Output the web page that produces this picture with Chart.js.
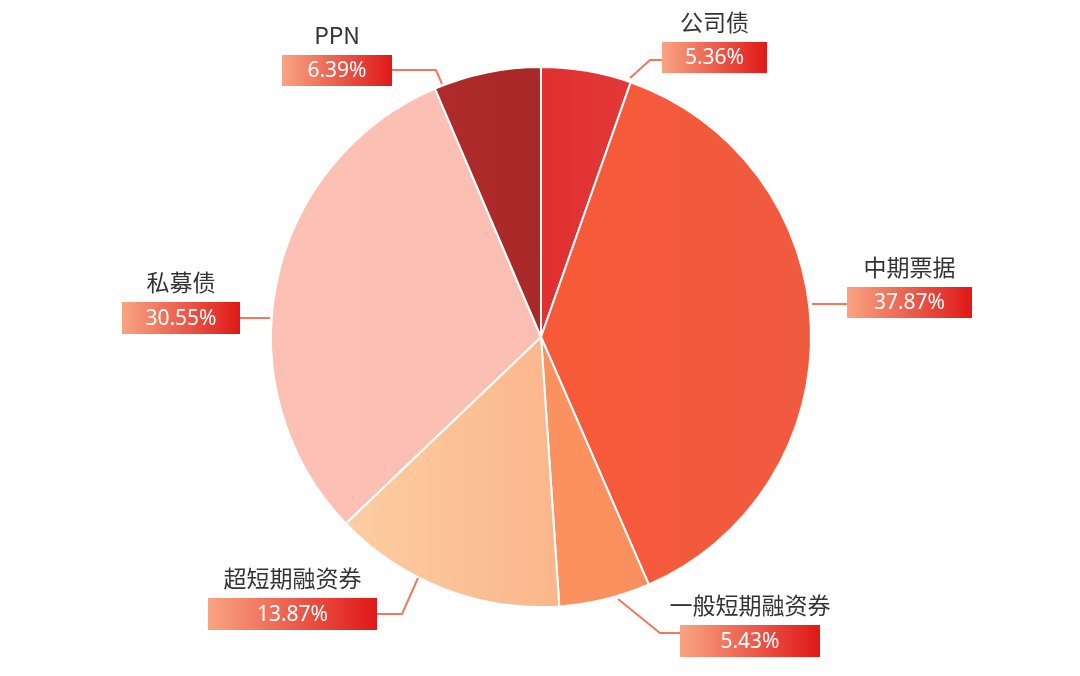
<!DOCTYPE html>
<html>
<head>
<meta charset="utf-8">
<script src="https://cdn.jsdelivr.net/npm/chart.js@4"></script>
<style>
  html, body { margin: 0; padding: 0; background: #ffffff; }
  canvas { display: block; }
</style>
</head>
<body>
<canvas id="pieChart" width="1080" height="676"></canvas>
<script>
// Data
const categories = ['公司债', '中期票据', '一般短期融资券', '超短期融资券', '私募债', 'PPN'];
const shares = [5.36, 37.87, 5.43, 13.87, 30.55, 6.39];

// Slice colours (left -> right gradient stops)
const sliceStops = [
    ['#d81818', '#e84848'],
    ['#ff5a30', '#f05a40'],
    ['#fb9a68', '#f98a58'],
    ['#fdd6aa', '#f99a70'],
    ['#fcc0b4', '#fbbcb0'],
    ['#b83030', '#9a2020']
];

// Label layout: box rect, name position, leader polyline
const labelLayout = [
    { box: [662, 42, 105, 31], line: [[630, 78], [650, 60], [662, 60]] },
    { box: [847, 287, 125, 31], line: [[812, 304], [847, 304]] },
    { box: [680, 625, 140, 32], line: [[618, 599], [660, 633], [680, 633]] },
    { box: [208, 598, 169, 32], line: [[418, 578], [402, 614], [377, 614]] },
    { box: [122, 302, 118, 32], line: [[270, 318], [240, 318]] },
    { box: [282, 55, 110, 31], line: [[442, 84], [436, 70], [392, 70]] }
];

const labelPlugin = {
    id: 'boxLabels',
    afterDraw(chart) {
        const ctx = chart.ctx;
        ctx.save();
        labelLayout.forEach((lab, i) => {
            ctx.strokeStyle = '#f07860';
            ctx.lineWidth = 2;
            ctx.beginPath();
            lab.line.forEach(([x, y], k) => k ? ctx.lineTo(x, y) : ctx.moveTo(x, y));
            ctx.stroke();

            const [x, y, w, h] = lab.box;
            const g = ctx.createLinearGradient(x, 0, x + w, 0);
            g.addColorStop(0, '#f8a482');
            g.addColorStop(1, '#e01818');
            ctx.fillStyle = g;
            ctx.fillRect(x, y, w, h);

            ctx.textAlign = 'center';
            ctx.textBaseline = 'middle';
            ctx.fillStyle = '#ffffff';
            ctx.font = '21px "Noto Sans", "Noto Sans CJK SC", sans-serif';
            ctx.fillText(shares[i].toFixed(2) + '%', x + w / 2, y + h / 2 + 1);

            ctx.fillStyle = '#333333';
            ctx.font = '23px "Noto Sans CJK SC", "Noto Sans", sans-serif';
            ctx.fillText(categories[i], x + w / 2, y - 20);
        });
        ctx.restore();
    }
};

new Chart(document.getElementById('pieChart').getContext('2d'), {
    type: 'pie',
    data: {
        labels: categories,
        datasets: [{
            data: shares,
            backgroundColor: function(context) {
                const area = context.chart.chartArea;
                const stops = sliceStops[context.dataIndex];
                if (!area) return stops[0];
                const g = context.chart.ctx.createLinearGradient(area.left, 0, area.right, 0);
                g.addColorStop(0, stops[0]);
                g.addColorStop(1, stops[1]);
                return g;
            },
            borderColor: '#ffffff',
            borderWidth: 2
        }]
    },
    options: {
        responsive: false,
        animation: false,
        layout: { padding: { top: 66, bottom: 68, left: 270, right: 268 } },
        plugins: {
            legend: { display: false },
            tooltip: { enabled: false }
        }
    },
    plugins: [labelPlugin]
});
</script>
</body>
</html>
